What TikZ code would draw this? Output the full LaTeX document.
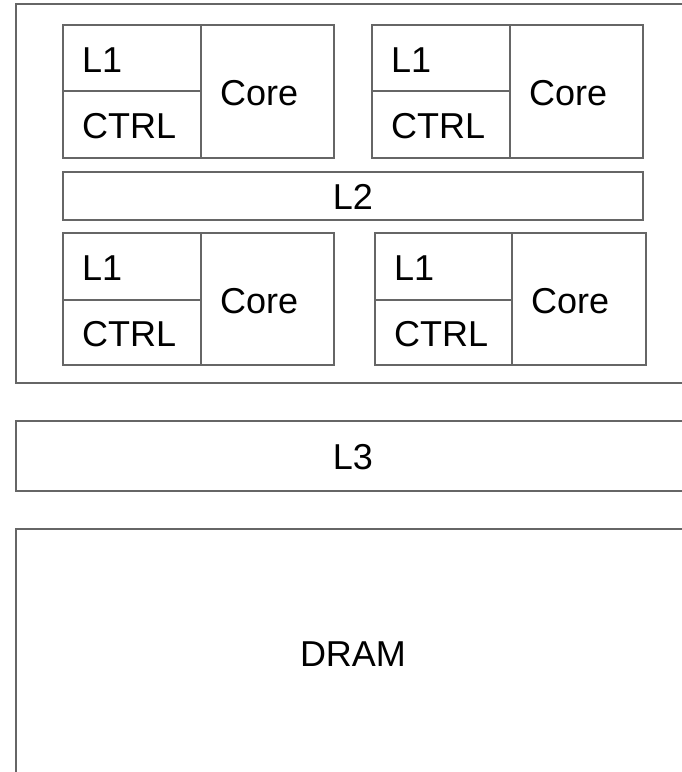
\documentclass[tikz,border=0pt]{standalone}
\usepackage{fontspec}
\setmainfont{Liberation Sans}
\definecolor{lc}{RGB}{102,102,102}
\begin{document}
\begin{tikzpicture}[x=1pt,y=-1pt,
  box/.style={draw=lc,line width=1.4pt},
  lbl/.style={font=\fontsize{36}{40}\selectfont,inner sep=0pt,text=black}]
\useasboundingbox (0,0) rectangle (682,772);
\clip (0,0) rectangle (682,772);
\fill[white] (0,0) rectangle (682,772);
% outer cluster
\draw[box] (16,4) rectangle (690,383);
% blocks: (left, top, divider, right, mid, bottom)
\foreach \n/\l/\t/\d/\r/\m/\b in {a/63/25/201/334/91/158, b/372/25/510/643/91/158, c/63/233/201/334/300/365, d/375/233/512/646/300/365}{
  \draw[box] (\l,\t) rectangle (\d,\m);
  \draw[box] (\l,\m) rectangle (\d,\b);
  \draw[box] (\d,\t) rectangle (\r,\b);
  \node[lbl,anchor=west] (l1\n) at ({\l+19},{(\t+\m)/2+2}) {L1};
  \node[lbl,anchor=west] (ctrl\n) at ({\l+19},{(\m+\b)/2+2}) {CTRL};
  \node[lbl,anchor=west] (core\n) at ({\d+19},{(\t+\b)/2+2}) {Core};
}
\draw[box] (63,172) rectangle (643,220);
\node[lbl] (l2) at (353,197) {L2};
\draw[box] (16,421) rectangle (690,491);
\node[lbl] (l3) at (353,457) {L3};
\draw[box] (16,529) rectangle (690,790);
\node[lbl] (dram) at (353,654) {DRAM};
\end{tikzpicture}
\end{document}
